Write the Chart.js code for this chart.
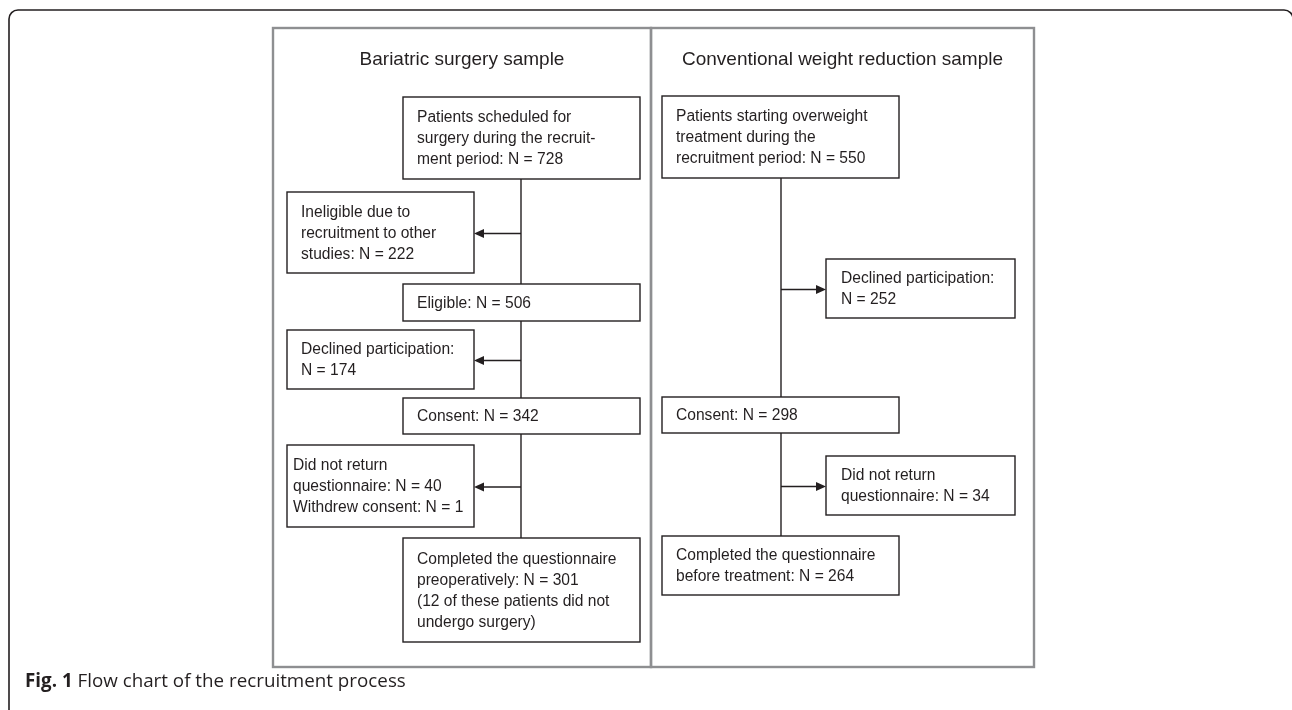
<!DOCTYPE html>
<html>
<head>
<meta charset="utf-8">
<script src="https://cdn.jsdelivr.net/npm/chart.js@4.4.1/dist/chart.umd.min.js"></script>
<style>
  html, body { margin: 0; padding: 0; background: #fff; }
  canvas { display: block; }
</style>
</head>
<body>
<canvas id="flowChart" width="1292" height="710"></canvas>
<script>
// ========= Data =========
const panelTitles = ['Bariatric surgery sample', 'Conventional weight reduction sample'];

// main path (boxes down the spine), {n} is filled from the counts
const bariatricSteps = [
  ['Patients scheduled for', 'surgery during the recruit-', 'ment period: N = {n}'],
  ['Eligible: N = {n}'],
  ['Consent: N = {n}'],
  ['Completed the questionnaire', 'preoperatively: N = {n}', '(12 of these patients did not', 'undergo surgery)']
];
const bariatricCounts = [728, 506, 342, 301];

const bariatricExits = [
  ['Ineligible due to', 'recruitment to other', 'studies: N = {n}'],
  ['Declined participation:', 'N = {n}'],
  ['Did not return', 'questionnaire: N = {n}', 'Withdrew consent: N = 1']
];
const bariatricExitCounts = [222, 174, 40];

const conventionalSteps = [
  ['Patients starting overweight', 'treatment during the', 'recruitment period: N = {n}'],
  ['Consent: N = {n}'],
  ['Completed the questionnaire', 'before treatment: N = {n}']
];
const conventionalCounts = [550, 298, 264];

const conventionalExits = [
  ['Declined participation:', 'N = {n}'],
  ['Did not return', 'questionnaire: N = {n}']
];
const conventionalExitCounts = [252, 34];

const captionBold = 'Fig. 1';
const captionText = ' Flow chart of the recruitment process';

// ========= Layout (scale units) =========
const panels = [
  { x0: 273, x1: 651, y0: 28, y1: 667, titleY: 60 },
  { x0: 651, x1: 1034, y0: 28, y1: 667, titleY: 60 }
];
const bariatricLayout = {
  spine: 521,
  main: { x0: 403, x1: 640, rows: [[97, 179], [284, 321], [398, 434], [538, 642]] },
  side: { x0: 287, x1: 474, dir: -1, rows: [[192, 273, 14], [330, 389, 14], [445, 527, 6]] }
};
const conventionalLayout = {
  spine: 781,
  main: { x0: 662, x1: 899, rows: [[96, 178], [397, 433], [536, 595]] },
  side: { x0: 826, x1: 1015, dir: 1, rows: [[259, 318, 15], [456, 515, 15]] }
};

const INK = '#231f20';
const PANEL_GREY = '#8e8f91';
const BOX_FONT = '15.6px "Liberation Sans", Arial, sans-serif';
const TITLE_FONT = '19px "Liberation Sans", Arial, sans-serif';
const CAPTION_SIZE = 18.8;

function fill(lines, n) {
  return lines.map(l => l.replace('{n}', n));
}

// ========= Plugin that draws the flow chart on the scales =========
const flowPlugin = {
  id: 'flow',
  afterDraw(chart) {
    const { ctx, scales: { x, y } } = chart;
    const px = v => x.getPixelForValue(v);
    const py = v => y.getPixelForValue(v);

    ctx.save();

    // outer frame (rounded top corners, open at the bottom, right side runs off the page)
    const r = 9;
    ctx.strokeStyle = INK;
    ctx.lineWidth = 1.6;
    ctx.beginPath();
    ctx.moveTo(px(9), py(720));
    ctx.lineTo(px(9), py(10) + r);
    ctx.arcTo(px(9), py(10), px(9) + r, py(10), r);
    ctx.lineTo(px(1293) - r, py(10));
    ctx.arcTo(px(1293), py(10), px(1293), py(10) + r, r);
    ctx.lineTo(px(1293), py(720));
    ctx.stroke();

    // sample panels
    ctx.strokeStyle = PANEL_GREY;
    ctx.lineWidth = 2.4;
    panels.forEach((p, i) => {
      ctx.strokeRect(px(p.x0), py(p.y0), px(p.x1) - px(p.x0), py(p.y1) - py(p.y0));
      ctx.fillStyle = INK;
      ctx.font = TITLE_FONT;
      ctx.textAlign = 'center';
      ctx.textBaseline = 'middle';
      ctx.fillText(panelTitles[i], (px(p.x0) + px(p.x1)) / 2, py(p.titleY));
    });

    function box(x0, x1, y0, y1, lines, pad) {
      const X0 = px(x0), X1 = px(x1), Y0 = py(y0), Y1 = py(y1);
      ctx.strokeStyle = INK;
      ctx.lineWidth = 1.4;
      ctx.fillStyle = '#fff';
      ctx.fillRect(X0, Y0, X1 - X0, Y1 - Y0);
      ctx.strokeRect(X0, Y0, X1 - X0, Y1 - Y0);
      ctx.fillStyle = INK;
      ctx.font = BOX_FONT;
      ctx.textAlign = 'left';
      ctx.textBaseline = 'middle';
      const lh = 21;
      const cy = (Y0 + Y1) / 2 + 1;
      lines.forEach((t, k) => {
        ctx.fillText(t, X0 + pad, cy - (lines.length - 1) * lh / 2 + k * lh);
      });
    }

    function arrow(xFrom, xTo, yv) {
      const X0 = px(xFrom), X1 = px(xTo), Y = py(yv);
      const dir = Math.sign(X1 - X0);
      ctx.strokeStyle = INK;
      ctx.lineWidth = 1.4;
      ctx.beginPath();
      ctx.moveTo(X0, Y);
      ctx.lineTo(X1 - dir * 8, Y);
      ctx.stroke();
      ctx.fillStyle = INK;
      ctx.beginPath();
      ctx.moveTo(X1, Y);
      ctx.lineTo(X1 - dir * 10, Y - 4.5);
      ctx.lineTo(X1 - dir * 10, Y + 4.5);
      ctx.closePath();
      ctx.fill();
    }

    function drawSample(layout, steps, counts, exits, exitCounts) {
      const m = layout.main, s = layout.side;
      // spine
      ctx.strokeStyle = INK;
      ctx.lineWidth = 1.4;
      ctx.beginPath();
      ctx.moveTo(px(layout.spine), py(m.rows[0][1]));
      ctx.lineTo(px(layout.spine), py(m.rows[m.rows.length - 1][0]));
      ctx.stroke();
      // exits
      exits.forEach((lines, i) => {
        const [y0, y1, pad] = s.rows[i];
        const edge = s.dir < 0 ? s.x1 : s.x0;
        arrow(layout.spine, edge, (y0 + y1) / 2 + 1);
        box(s.x0, s.x1, y0, y1, fill(lines, exitCounts[i]), pad);
      });
      // main steps
      steps.forEach((lines, i) => {
        const [y0, y1] = m.rows[i];
        box(m.x0, m.x1, y0, y1, fill(lines, counts[i]), 14);
      });
    }

    drawSample(bariatricLayout, bariatricSteps, bariatricCounts, bariatricExits, bariatricExitCounts);
    drawSample(conventionalLayout, conventionalSteps, conventionalCounts, conventionalExits, conventionalExitCounts);

    // caption
    ctx.fillStyle = INK;
    ctx.textAlign = 'left';
    ctx.textBaseline = 'alphabetic';
    ctx.font = 'bold ' + CAPTION_SIZE + 'px "Open Sans", sans-serif';
    ctx.fillText(captionBold, px(25), py(687));
    const w = ctx.measureText(captionBold).width;
    ctx.font = CAPTION_SIZE + 'px "Open Sans", sans-serif';
    ctx.fillText(captionText, px(25) + w, py(687));

    ctx.restore();
  }
};

new Chart(document.getElementById('flowChart'), {
  type: 'scatter',
  data: { datasets: [] },
  options: {
    responsive: false,
    animation: false,
    devicePixelRatio: 1,
    layout: { padding: 0 },
    plugins: { legend: { display: false }, tooltip: { enabled: false } },
    scales: {
      x: { type: 'linear', min: 0, max: 1292, display: false },
      y: { type: 'linear', min: 0, max: 710, reverse: true, display: false }
    }
  },
  plugins: [flowPlugin]
});
</script>
</body>
</html>
